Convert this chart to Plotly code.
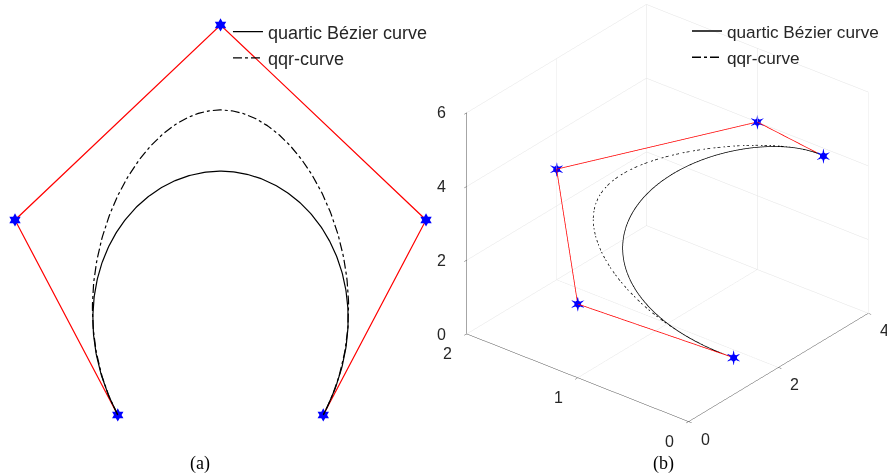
import numpy as np
import plotly.graph_objects as go
from math import comb

# ---- data: control points ----
px2 = [-1, -2, 0, 2, 1]
py2 = [0, 2, 4, 2, 0]

px3 = [1, 0, 2, 4, 3]
py3 = [0, 1, 2, 1, 0]
pz3 = [1, 2, 3, 4, 5]

qqr_weights = [1, 2, 4.65, 2, 1]
bez_weights = [1, 1, 1, 1, 1]

xticks3 = [0, 2, 4]
yticks3 = [0, 1, 2]
zticks3 = [0, 2, 4, 6]

legend_names = ["quartic Bézier curve", "qqr-curve"]
captions = ["(a)", "(b)"]


def rational_bezier(ctrl, w, n=300):
    t = np.linspace(0, 1, n)
    k = len(ctrl[0]) - 1
    B = np.array([comb(k, i) * t**i * (1 - t)**(k - i) * w[i] for i in range(k + 1)])
    den = B.sum(axis=0)
    return [(B * np.array(c)[:, None]).sum(axis=0) / den for c in ctrl]


bx, by = rational_bezier([px2, py2], bez_weights)
qx, qy = rational_bezier([px2, py2], qqr_weights)
bx3, by3, bz3 = rational_bezier([px3, py3, pz3], bez_weights)
qx3, qy3, qz3 = rational_bezier([px3, py3, pz3], qqr_weights)

fig = go.Figure()

# ---- panel (a) ----
fig.add_trace(go.Scatter(x=px2, y=py2, mode="lines+markers",
                         line=dict(color="#ff0000", width=1.2),
                         marker=dict(symbol="hexagram", size=10, color="#0000ff"),
                         showlegend=False, cliponaxis=False))
fig.add_trace(go.Scatter(x=bx, y=by, mode="lines", name=legend_names[0],
                         line=dict(color="black", width=1.2),
                         legend="legend", legendgroup="a1"))
fig.add_trace(go.Scatter(x=qx, y=qy, mode="lines", name=legend_names[1],
                         line=dict(color="black", width=1.2, dash="dashdot"),
                         legend="legend", legendgroup="a2"))

# ---- panel (b) ----
fig.add_trace(go.Scatter3d(x=px3, y=py3, z=pz3, mode="lines+markers+text",
                           text=["✶"] * len(px3), textposition="middle center",
                           textfont=dict(color="#0000ff", size=21, family="DejaVu Sans"),
                           marker=dict(size=4, color="#0000ff", symbol="circle"),
                           line=dict(color="#ff0000", width=1.5),
                           showlegend=False, scene="scene", hoverinfo="skip"))
fig.add_trace(go.Scatter3d(x=bx3, y=by3, z=bz3, mode="lines", name=legend_names[0],
                           line=dict(color="black", width=1.5),
                           legend="legend2", legendgroup="b1", scene="scene"))
fig.add_trace(go.Scatter3d(x=qx3, y=qy3, z=qz3, mode="lines", name=legend_names[1],
                           line=dict(color="black", width=1.5, dash="dashdot"),
                           legend="legend2", legendgroup="b2", scene="scene"))

# upright tick labels as scene annotations at the tick values
tickfont = dict(family="Liberation Sans", size=16, color="#262626")
scene_ann = []
for v in zticks3:
    scene_ann.append(dict(x=0, y=2, z=v, text=str(v), showarrow=False,
                          xanchor="right", yanchor="middle", xshift=-19, font=tickfont))
for v in yticks3:
    scene_ann.append(dict(x=0, y=v, z=0, text=str(v), showarrow=False,
                          xanchor="center", yanchor="middle", xshift=-19, yshift=-19,
                          font=tickfont))
for v in xticks3:
    scene_ann.append(dict(x=v, y=0, z=0, text=str(v), showarrow=False,
                          xanchor="left", yanchor="middle", xshift=10, yshift=-17,
                          font=tickfont))

axis3 = dict(showbackground=False, gridcolor="#e3e3e3", gridwidth=1,
             showline=True, linecolor="#4d4d4d", linewidth=1,
             zeroline=False, showspikes=False, title=dict(text=""),
             ticks="outside", ticklen=4, tickcolor="#4d4d4d",
             showticklabels=False)

legfont = dict(family="Liberation Sans", size=18, color="#262626")
legfont2 = dict(family="Liberation Sans", size=17.2, color="#262626")

E = 0.488
s = 1.496
k = 1.34
fig.update_layout(
    width=887, height=476,
    margin=dict(l=0, r=0, t=0, b=0),
    paper_bgcolor="white", plot_bgcolor="white",
    xaxis=dict(domain=[0, 0.5], range=[-2.146, 2.170], visible=False),
    yaxis=dict(domain=[0, 1], range=[-0.626, 4.256], visible=False),
    scene=dict(
        domain=dict(x=[0.505, 1.0], y=[0.104, 1.0]),
        xaxis=dict(axis3, range=[0, 4], tickvals=xticks3),
        yaxis=dict(axis3, range=[0, 2], tickvals=yticks3),
        zaxis=dict(axis3, range=[0, 6], tickvals=zticks3),
        aspectmode="manual", aspectratio=dict(x=k, y=k, z=0.888 * k),
        camera=dict(eye=dict(x=-0.678 * s, y=-0.549 * s, z=E * s),
                    center=dict(x=0, y=0, z=0), up=dict(x=0, y=0, z=1),
                    projection=dict(type="orthographic")),
        annotations=scene_ann,
    ),
    legend=dict(x=0.257, y=0.972, xanchor="left", yanchor="top",
                bgcolor="rgba(0,0,0,0)", font=legfont, tracegroupgap=0),
    legend2=dict(x=0.7745, y=0.972, xanchor="left", yanchor="top",
                 bgcolor="rgba(0,0,0,0)", font=legfont2, tracegroupgap=1),
    annotations=[
        dict(text=captions[0], x=200 / 887, y=0.0, xref="paper", yref="paper",
             xanchor="center", yanchor="bottom", showarrow=False,
             font=dict(family="Liberation Serif", size=18, color="black")),
        dict(text=captions[1], x=663 / 887, y=0.0, xref="paper", yref="paper",
             xanchor="center", yanchor="bottom", showarrow=False,
             font=dict(family="Liberation Serif", size=18, color="black")),
    ],
)

fig.write_html("out.html")
